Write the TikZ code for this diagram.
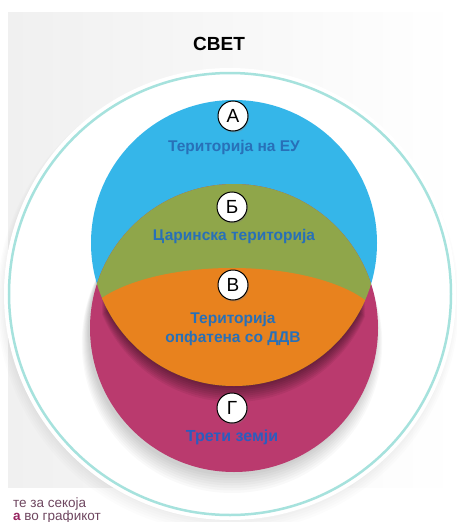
\documentclass[tikz,border=0pt]{standalone}
\usepackage{fontspec}
\setmainfont{Liberation Sans}
\usetikzlibrary{shadows}
\definecolor{eublue}{RGB}{53,182,233}
\definecolor{custgreen}{RGB}{143,166,74}
\definecolor{vatorange}{RGB}{232,130,30}
\definecolor{thirdmag}{RGB}{186,58,110}
\definecolor{labelblue}{RGB}{40,112,184}
\definecolor{labeldark}{RGB}{44,92,190}
\definecolor{ringteal}{RGB}{166,226,221}
\definecolor{bggray}{RGB}{240,240,240}
\definecolor{notetext}{RGB}{110,70,95}
\definecolor{notebold}{RGB}{150,35,95}
\tikzset{
  letterdisc/.style={circle, draw=black, line width=1pt, fill=white, minimum size=30pt, inner sep=0pt,
    font=\fontsize{19}{19}\selectfont, drop shadow={opacity=0.35, shadow xshift=1pt, shadow yshift=-1.5pt}},
  zonelabel/.style={font=\bfseries\fontsize{15.5}{19}\selectfont, text=labelblue, align=center, inner sep=0pt},
  notelabel/.style={font=\fontsize{13.5}{13}\selectfont, text=notetext, align=left, anchor=base west, inner sep=0pt},
}
\begin{document}
\begin{tikzpicture}[x=1pt,y=-1pt]
\useasboundingbox (0,0) rectangle (457,522);
% backdrop
\shade[left color=bggray, right color=white] (8,12) rectangle (457,487);
% outer world disc with soft shadow
\foreach \i in {1,...,6}
  \fill[black, opacity=0.012] (228,296+\i) circle (222+\i*1.5);
\fill[white] (230,294) circle (226);
\draw[ringteal, line width=2.5pt] (230,294) circle (221);
% shadow of magenta disc
\foreach \i in {1,...,8}
  \fill[black, opacity=0.025] (232,330+\i*1.6) circle (143+\i*0.9);
% main discs
\fill[eublue] (234,243) circle (143);
\fill[thirdmag] (234,328) circle (144);
% green lens (customs territory)
\begin{scope}
  \clip (234,243) circle (143);
  \fill[custgreen] (234,328) circle (144);
\end{scope}
% shadow of orange region onto magenta
\foreach \i in {1,...,8}{
  \begin{scope}
    \clip (234,328) circle (144);
    \clip (234,243+\i*2) circle (143);
    \fill[black, opacity=0.06] (232,330+\i*2) ellipse (152 and 62);
  \end{scope}
}
% orange region (VAT territory)
\begin{scope}
  \clip (234,243) circle (143);
  \fill[vatorange] (232,330) ellipse (152 and 62);
\end{scope}
% title
\node[font=\bfseries\fontsize{19}{19}\selectfont, inner sep=0pt] (world) at (219,44) {СВЕТ};
% letter discs
\node[letterdisc] (la) at (233,116) {А};
\node[letterdisc] (lb) at (232,207) {Б};
\node[letterdisc] (lv) at (233,285) {В};
\node[letterdisc] (lg) at (232,408) {Г};
% zone labels
\node[zonelabel] (eu) at (234,147) {Територија на ЕУ};
\node[zonelabel] (cust) at (234,236) {Царинска територија};
\node[zonelabel] (vat) at (233,329) {Територија\\опфатена со ДДВ};
\node[zonelabel, text=labeldark, font=\bfseries\fontsize{16}{19}\selectfont] (third) at (232,437) {Трети земји};
% cropped note text
\node[notelabel] (note) at (13,520) {те за секоја\\\textbf{\textcolor{notebold}{а}} во графикот};
\end{tikzpicture}
\end{document}
